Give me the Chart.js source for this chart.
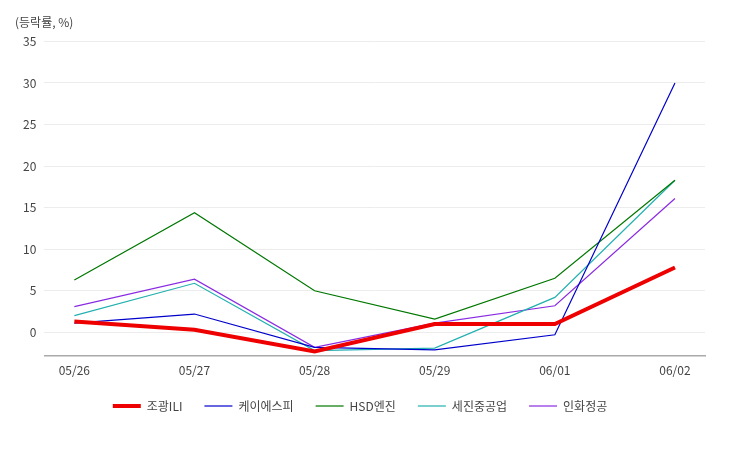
<!DOCTYPE html>
<html>
<head>
<meta charset="utf-8">
<script src="https://cdn.jsdelivr.net/npm/chart.js@4"></script>
<style>
  body { margin: 0; background: #fff; }
  #wrap { width: 750px; height: 450px; }
</style>
</head>
<body>
<div id="wrap"><canvas id="chart"></canvas></div>
<script>
const dates = ['05/26', '05/27', '05/28', '05/29', '06/01', '06/02'];
const jogwang = [1.3, 0.3, -2.3, 1.0, 1.0, 7.8];
const ksp = [1.1, 2.2, -1.8, -2.1, -0.3, 30.0];
const hsd = [6.3, 14.4, 5.0, 1.6, 6.5, 18.3];
const sejin = [2.0, 5.9, -2.2, -1.9, 4.2, 18.3];
const inhwa = [3.1, 6.4, -1.8, 1.1, 3.2, 16.1];

const toPoints = arr => arr.map((v, i) => ({ x: i, y: v }));

function line(label, arr, color, width) {
    return {
        label: label,
        data: toPoints(arr),
        borderColor: color,
        backgroundColor: color,
        borderWidth: width,
        pointRadius: 0,
        tension: 0
    };
}

Chart.defaults.font.family = '"Noto Sans CJK KR", "Noto Sans", sans-serif';
Chart.defaults.color = '#444';

new Chart(document.getElementById('chart'), {
    type: 'line',
    data: {
        datasets: [
            line('조광ILI', jogwang, '#ee0000', 4),
            line('케이에스피', ksp, '#0000cc', 1.2),
            line('HSD엔진', hsd, '#007700', 1.2),
            line('세진중공업', sejin, '#22b0b0', 1.2),
            line('인화정공', inhwa, '#8a2be2', 1.2)
        ]
    },
    options: {
        responsive: true,
        maintainAspectRatio: false,
        animation: false,
        layout: { padding: { left: 15, right: 45, top: 15, bottom: 28 } },
        scales: {
            x: {
                type: 'linear',
                min: -0.25,
                max: 5.25,
                afterBuildTicks: axis => { axis.ticks = dates.map((d, i) => ({ value: i })); },
                ticks: {
                    callback: v => dates[v],
                    font: { size: 12 },
                    padding: 0
                },
                grid: { display: false },
                border: { color: '#aaa', width: 1.5 }
            },
            y: {
                min: -2.8,
                max: 35,
                afterBuildTicks: axis => {
                    axis.ticks = [0, 5, 10, 15, 20, 25, 30, 35].map(v => ({ value: v }));
                },
                ticks: { font: { size: 12 }, padding: 8 },
                grid: { color: '#ececec', drawTicks: false },
                border: { display: false }
            }
        },
        plugins: {
            title: {
                display: true,
                text: '(등락률, %)',
                align: 'start',
                font: { size: 12, weight: 'normal' },
                padding: { top: 0, bottom: 12 }
            },
            legend: {
                position: 'bottom',
                labels: {
                    usePointStyle: true,
                    pointStyle: 'line',
                    pointStyleWidth: 28,
                    font: { size: 12 },
                    padding: 22
                }
            },
            tooltip: { enabled: false }
        }
    }
});
</script>
</body>
</html>
